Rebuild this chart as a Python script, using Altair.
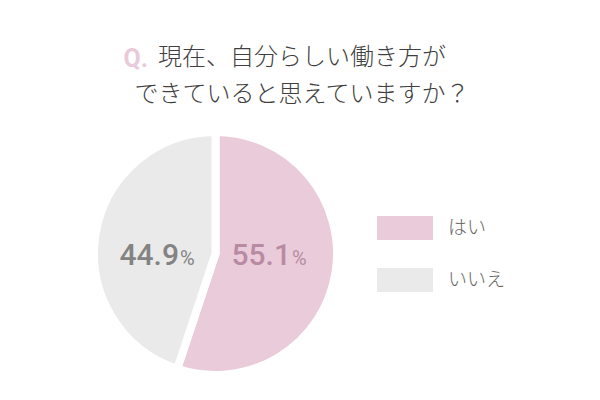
import altair as alt
import pandas as pd

categories = ["はい", "いいえ"]
values = [55.1, 44.9]
value_labels = ["55.1", "44.9"]
slice_colors = ["#EACBDA", "#EAEAEA"]
label_colors = ["#B88BA2", "#838383"]
title_prefix = "Q."
title_lines = ["現在、自分らしい働き方が", "できていると思えていますか？"]

df = pd.DataFrame({
    "cat": categories,
    "value": values,
    "label": value_labels,
    "order": list(range(len(categories))),
    "tcolor": label_colors,
    "pct": ["%"] * len(categories),
})
tdf = pd.DataFrame({"line": title_lines, "row": list(range(len(title_lines)))})
qdf = pd.DataFrame({"q": [title_prefix]})

color_scale = alt.Scale(domain=categories, range=slice_colors)
cx, cy = 207.5, 245.5

pie = alt.Chart(df).mark_arc(outerRadius=121.5, stroke="white", strokeWidth=8).encode(
    theta=alt.Theta("value:Q", stack=True),
    color=alt.Color("cat:N", scale=color_scale, legend=None),
    order=alt.Order("order:Q"),
    x=alt.value(cx), y=alt.value(cy),
)

lab_x = alt.X("cat:N", scale=alt.Scale(type="point", padding=0, domain=categories, range=[283, 171]), axis=None)
nums = alt.Chart(df).mark_text(font="Roboto", fontSize=30, fontWeight=500,
                               align="right", baseline="alphabetic").encode(
    x=lab_x, y=alt.value(257), text="label:N",
    color=alt.Color("tcolor:N", scale=None),
)
pcts = alt.Chart(df).mark_text(font="Roboto", fontSize=20, fontWeight="normal",
                               align="left", baseline="alphabetic", dx=1).encode(
    x=lab_x, y=alt.value(257), text="pct:N",
    color=alt.Color("tcolor:N", scale=None),
)

leg_y = alt.Y("cat:N", scale=alt.Scale(type="point", padding=0, domain=categories, range=[220, 272]), axis=None)
leg_sym = alt.Chart(df).mark_point(shape="M-1,-0.4286H1V0.4286H-1Z", size=3136, filled=True, opacity=1).encode(
    x=alt.value(397), y=leg_y,
    color=alt.Color("cat:N", scale=color_scale, legend=None),
)
leg_txt = alt.Chart(df).mark_text(font="Noto Sans CJK JP", fontSize=19, fontWeight=300, color="#666666",
                                  align="left", baseline="middle").encode(
    x=alt.value(440), y=leg_y, text="cat:N",
)

title_y = alt.Y("row:O", scale=alt.Scale(type="point", padding=0, range=[50, 87]), axis=None)
title_txt = alt.Chart(tdf).mark_text(font="Noto Sans CJK JP", fontSize=24, fontWeight=300, color="#3F3F3F",
                                     align="center", baseline="middle").encode(
    x=alt.value(294), y=title_y, text="line:N",
)
q_txt = alt.Chart(qdf).mark_text(font="Roboto", fontSize=25, fontWeight="bold", color="#E8CADA",
                                 align="right", baseline="middle").encode(
    x=alt.value(140), y=alt.value(51), text="q:N",
)

chart = alt.layer(pie, nums, pcts, leg_sym, leg_txt, title_txt, q_txt).resolve_scale(
    x="independent", y="independent", color="independent", theta="independent"
).properties(
    width=584, height=384, padding=0, autosize="none", background="white"
).configure_view(stroke=None)

chart.save("out.html", embed_options={"renderer": "svg", "actions": False})
